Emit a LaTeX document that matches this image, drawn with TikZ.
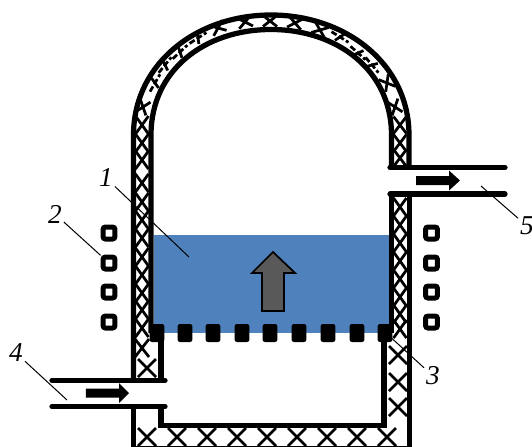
\documentclass[tikz,border=0pt]{standalone}
\usepackage{fontspec}
\setmainfont{Liberation Serif}
\usepackage{xcolor}
\definecolor{melt}{HTML}{4F81BD}
\definecolor{flowgray}{HTML}{595959}
\tikzset{
  wall/.style={line width=0.105cm, black, line cap=butt},
  pipeline/.style={line width=0.105cm, black, line cap=round},
  crossline/.style={line width=0.055cm, black},
  leaderline/.style={line width=0.02cm, black},
  coilbox/.style={draw, line width=0.1cm, rounded corners=0.05cm, minimum size=0.24cm, inner sep=0pt},
  gratebox/.style={fill=black, rounded corners=0.05cm, minimum width=0.3cm, minimum height=0.36cm, inner sep=0pt},
  partlabel/.style={font=\fontsize{15.5}{18}\selectfont\itshape, inner sep=1pt},
  pics/xmark/.style 2 args={code={
    \draw[crossline] (-#1,-#2) -- (#1,#2) (-#1,#2) -- (#1,-#2);
  }},
  pics/xdash/.style 2 args={code={
    \draw[crossline, dash pattern=on 0.12cm off 0.05cm] (0,-#2) -- (0,#2);
    \draw[crossline] (-#1,-2.5) -- (#1,2.5);
  }},
}
\begin{document}
\begin{tikzpicture}[x=0.02cm, y=-0.02cm]
  \path[use as bounding box, clip] (0,0) rectangle (532,447);

  % --- melt ---
  \fill[melt] (154,235) rectangle (391,333);

  % --- lining crosses, straight parts ---
  \foreach \y in {125,143,160,183,202,220,238,257,275,293,310,328} {
    \pic at (142,\y) {xmark={6.5}{9}};
  }
  \pic at (142,348) {xmark={7}{9}};
  \pic at (147,368) {xmark={9}{9}};
  \foreach \y in {125,143,158} {
    \pic at (400,\y) {xmark={6.5}{8.5}};
  }
  \foreach \y in {207,225,243,261,279,297,314,329} {
    \pic at (400,\y) {xmark={6.5}{9}};
  }
  \foreach \y in {355,382,407} {
    \pic at (398,\y) {xmark={9}{9}};
  }
  \foreach \x in {147,177,...,393} {
    \pic at (\x,437) {xmark={9}{9}};
  }

  % --- lining crosses, dome ---
  \foreach \x/\y/\a in {143/107/161, 218/28/113, 245/22/101.5, 270/21/90, 295/23/79,
      320/30/68, 387/83/30, 395/107/19} {
    \pic[rotate=\a] at (\x,\y) {xmark={5.5}{7}};
  }
  \foreach \x/\y/\a in {155/83/150, 165/65/141, 180/52/133, 198/38/123,
      340/37/58, 358/53/48, 372/65/40} {
    \pic[rotate=\a] at (\x,\y) {xdash={5.5}{10}};
  }

  % --- outer wall ---
  \draw[wall] (133.5,380.5) -- (133.5,135)
    .. controls (133.5,65) and (195,15) .. (271,15)
    .. controls (347,15) and (409,65) .. (409,135) -- (409,167.5);
  \draw[wall] (133.5,406.5) -- (133.5,447);
  \draw[wall] (409.5,194) -- (409.5,447);
  \draw[line width=0.02cm] (133,446.5) -- (409,446.5);

  % --- inner wall ---
  \draw[wall] (151,333) -- (151,135)
    .. controls (151,70) and (205,29.5) .. (271,29.5)
    .. controls (337,29.5) and (391.5,70) .. (391.5,135) -- (391.5,167.5);
  \draw[wall] (391.5,194) -- (391.5,333);
  \draw[wall] (161,340) -- (161,380.5);
  \draw[wall] (161,406.5) -- (161,425.5) -- (384,425.5) -- (384,340);

  % --- gas pipes ---
  \draw[pipeline] (390,167.5) -- (505,167.5);
  \draw[pipeline] (390,194) -- (505,194);
  \draw[pipeline] (52,380.5) -- (165,380.5);
  \draw[pipeline] (52,406.5) -- (165,406.5);

  % --- gas arrows ---
  \fill (416,176) -- (449,176) -- (449,170.5) -- (460,180.5)
    -- (449,190.5) -- (449,185) -- (416,185) -- cycle;
  \fill (86,388.5) -- (119,388.5) -- (119,383) -- (129,393)
    -- (119,403) -- (119,397.5) -- (86,397.5) -- cycle;

  % --- flow arrow ---
  \draw[line width=0.035cm, fill=flowgray] (273,252) -- (295,273) -- (284,273)
    -- (284,311) -- (262,311) -- (262,273) -- (252,273) -- cycle;

  % --- grate ---
  \foreach \i/\x in {1/157,2/185,3/213,4/242,5/270,6/299,7/328,8/357,9/385} {
    \node[gratebox] (grate\i) at (\x,333) {};
  }

  % --- inductor coils ---
  \foreach \i/\y in {1/233,2/263,3/292,4/322} {
    \node[coilbox] (coilL\i) at (109,\y) {};
    \node[coilbox] (coilR\i) at (431.5,\y) {};
  }

  % --- part labels and leaders ---
  \coordinate (end1) at (189,257);
  \coordinate (end3) at (386,333);
  \coordinate (end4) at (67,400);
  \coordinate (end5) at (481,186);
  \node[partlabel] (lab1) at (106,178) {1};
  \node[partlabel] (lab2) at (55,214) {2};
  \node[partlabel] (lab3) at (433,376) {3};
  \node[partlabel] (lab4) at (16,353) {4};
  \node[partlabel] (lab5) at (527,226) {5};
  \draw[leaderline] (lab1) -- (end1);
  \draw[leaderline] (lab2) -- (coilL2);
  \draw[leaderline] (lab3) -- (end3);
  \draw[leaderline] (lab4) -- (end4);
  \draw[leaderline] (lab5) -- (end5);
\end{tikzpicture}
\end{document}
